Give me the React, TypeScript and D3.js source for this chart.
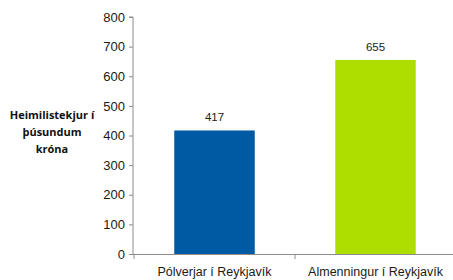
import { useEffect, useRef } from "react";
import * as d3 from "d3";

const categories = ["Pólverjar í Reykjavík", "Almenningur í Reykjavík"];
const values = [417, 655];
const barColors = ["#005aa3", "#aede00"];
const yTicks = [0, 100, 200, 300, 400, 500, 600, 700, 800];
const yTitle = ["Heimilistekjur í", "þúsundum", "króna"];

export default function App() {
  const ref = useRef<SVGSVGElement | null>(null);

  useEffect(() => {
    if (!ref.current) return;
    const width = 453, height = 280;
    const margin = { top: 17, right: 0, bottom: 26, left: 133 };
    const svg = d3.select(ref.current);
    svg.selectAll("*").remove();

    const x = d3.scaleBand()
      .domain(categories)
      .range([margin.left + 1, margin.left + 1 + 161 * 2])
      .paddingInner(0.5)
      .paddingOuter(0.25);

    const y = d3.scaleLinear()
      .domain([0, 800])
      .range([height - margin.bottom, margin.top]);

    const axisColor = "#8c8c8c";
    const font = "'Liberation Sans', Arial, sans-serif";

    // y axis
    const gy = svg.append("g").attr("transform", `translate(${margin.left}, 0)`)
      .call(d3.axisLeft(y).tickValues(yTicks).tickSize(4).tickPadding(4).tickFormat(d3.format("d")));
    gy.select(".domain").attr("stroke", axisColor).attr("d", `M-4,${y(800)}H0V${y(0)}`);
    gy.selectAll(".tick line").attr("stroke", axisColor);
    gy.selectAll(".tick text").attr("font-family", font).attr("font-size", 13).attr("fill", "#1a1a1a");

    // x axis
    const xEnd = width;
    svg.append("line")
      .attr("x1", margin.left).attr("x2", xEnd)
      .attr("y1", y(0) + 0.5).attr("y2", y(0) + 0.5)
      .attr("stroke", axisColor);
    const step = x.step();
    const bounds = [0, 1, 2].map(i => margin.left + 1 + i * step);
    svg.selectAll(".xtick").data(bounds).join("line")
      .attr("x1", d => d).attr("x2", d => d)
      .attr("y1", y(0)).attr("y2", y(0) + 5)
      .attr("stroke", axisColor);

    svg.selectAll(".xlab").data(categories).join("text")
      .attr("x", d => (x(d) as number) + x.bandwidth() / 2)
      .attr("y", y(0) + 22)
      .attr("text-anchor", "middle")
      .attr("font-family", font).attr("font-size", 12.5).attr("fill", "#1a1a1a")
      .text(d => d);

    // bars
    svg.selectAll(".bar").data(values).join("rect")
      .attr("x", (_, i) => x(categories[i]) as number)
      .attr("y", d => y(d))
      .attr("width", x.bandwidth())
      .attr("height", d => y(0) - y(d))
      .attr("fill", (_, i) => barColors[i]);

    svg.selectAll(".val").data(values).join("text")
      .attr("x", (_, i) => (x(categories[i]) as number) + x.bandwidth() / 2)
      .attr("y", d => y(d) - 9)
      .attr("text-anchor", "middle")
      .attr("font-family", font).attr("font-size", 11.5).attr("fill", "#222")
      .text(d => d);

    // y title
    svg.append("text")
      .attr("text-anchor", "middle")
      .attr("font-family", "'Open Sans', sans-serif").attr("font-weight", "bold")
      .attr("font-size", 11).attr("fill", "#111")
      .selectAll("tspan").data(yTitle).join("tspan")
      .attr("x", 52)
      .attr("y", (_, i) => 119 + i * 17)
      .text(d => d);
  }, []);

  return (
    <svg ref={ref} width={453} height={280}
      style={{ position: "absolute", left: 0, top: 0, background: "#fff" }} />
  );
}
